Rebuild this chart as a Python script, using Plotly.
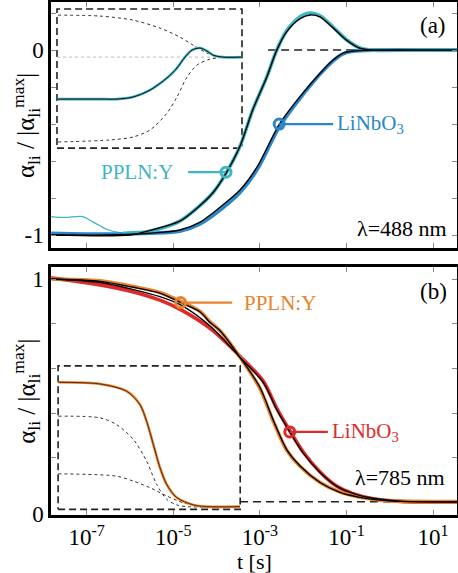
import plotly.graph_objects as go

# ---------------- data (x values are log10(t/s)) ----------------
# Panel (a), lambda = 488 nm
a_ppln_fit_logt = [-7.82, -6.0, -5.54, -4.85, -4.38, -4.08, -3.78, -3.46, -3.16, -2.84, -2.61,
                   -2.38, -2.07, -1.84, -1.61, -1.31, -1.0, -0.69, -0.38, 0.5, 1.55]
a_ppln_fit_y = [-1.0, -1.0, -0.975, -0.925, -0.84, -0.77, -0.665, -0.52, -0.32, -0.145, 0.0,
                0.10, 0.17, 0.19, 0.18, 0.12, 0.054, 0.01, 0.0, 0.0, 0.0]
# early drift of the PPLN:Y trace (thin, noisy part)
a_ppln_drift_logt = [-7.82, -7.5, -7.09, -6.85, -6.69, -6.53, -6.16, -5.54]
a_ppln_drift_y = [-0.90, -0.905, -0.90, -0.93, -0.95, -0.97, -0.99, -0.98]
a_ppln_data_logt = [-6.16, -5.54, -4.85, -4.38, -4.08, -3.78, -3.46, -3.16, -2.84, -2.61,
                    -2.38, -2.07, -1.84, -1.61, -1.31, -1.0, -0.69, -0.38, 0.5, 1.55]
a_ppln_data_y = [-0.99, -0.98, -0.925, -0.84, -0.77, -0.665, -0.52, -0.32, -0.145, 0.0,
                 0.105, 0.18, 0.20, 0.185, 0.125, 0.056, 0.012, 0.0, 0.0, 0.0]
a_lnb_fit_logt = [-7.82, -6.5, -5.54, -4.85, -4.38, -3.92, -3.46, -3.06, -2.55, -2.07, -1.61,
                  -1.31, -1.08, -0.85, -0.4, 1.55]
a_lnb_fit_y = [-1.0, -1.0, -0.99, -0.973, -0.93, -0.85, -0.757, -0.63, -0.40, -0.25, -0.125,
               -0.054, -0.016, -0.005, 0.0, 0.0]
a_lnb_data_logt = [-7.82, -6.5, -5.54, -4.85, -4.38, -3.92, -3.46, -3.06, -2.55, -2.07, -1.61,
                   -1.31, -1.08, -0.85, -0.4, 1.55]
a_lnb_data_y = [-0.99, -0.995, -0.99, -0.98, -0.94, -0.865, -0.77, -0.645, -0.415, -0.26, -0.13,
                -0.058, -0.02, -0.006, 0.0, 0.0]
a_zero_logt = [-2.81, 1.55]
a_zero_y = [0.0, 0.0]

# Inset of panel (a) (drawn in the main axes' coordinates)
a_ins_box_logt = [-7.686, -3.413]
a_ins_box_y = [-0.530, 0.222]
a_ins_total_logt = [-7.686, -6.693, -6.30, -5.931, -5.538, -5.146, -4.915, -4.730, -4.568,
                    -4.383, -4.222, -4.083, -3.852, -3.413]
a_ins_total_y = [-0.265, -0.265, -0.265, -0.254, -0.216, -0.151, -0.097, -0.038, 0.0,
                 0.011, -0.005, -0.027, -0.038, -0.038]
a_ins_up_logt = [-7.663, -6.693, -5.931, -5.307, -4.845, -4.545, -4.222, -3.921, -3.413]
a_ins_up_y = [0.189, 0.184, 0.162, 0.119, 0.070, 0.027, -0.016, -0.038, -0.038]
a_ins_low_logt = [-7.663, -6.462, -5.931, -5.538, -5.146, -4.915, -4.684, -4.453, -4.152,
                  -3.760, -3.413]
a_ins_low_y = [-0.497, -0.486, -0.470, -0.432, -0.341, -0.254, -0.146, -0.081, -0.049,
               -0.038, -0.038]
a_ins_zero_y = -0.038

# Panel (b), lambda = 785 nm
b_ppln_fit_logt = [-7.82, -6.69, -5.92, -5.31, -4.83, -4.38, -4.15, -3.92, -3.45, -3.0, -2.69,
                   -2.38, -2.07, -1.61, -1.15, -0.69, -0.23, 0.23, 1.55]
b_ppln_fit_y = [1.0, 0.99, 0.965, 0.94, 0.90, 0.86, 0.815, 0.78, 0.665, 0.54, 0.40,
                0.275, 0.205, 0.135, 0.093, 0.072, 0.06, 0.055, 0.053]
b_ppln_data_logt = b_ppln_fit_logt
b_ppln_data_y = [1.0, 0.992, 0.968, 0.943, 0.905, 0.862, 0.818, 0.78, 0.665, 0.535, 0.395,
                 0.272, 0.203, 0.135, 0.094, 0.073, 0.061, 0.056, 0.054]
b_lnb_fit_logt = [-7.82, -6.69, -5.92, -5.31, -4.83, -4.15, -3.45, -2.92, -2.61, -2.31, -2.0,
                  -1.61, -1.23, -0.85, -0.38, 0.23, 1.55]
b_lnb_fit_y = [1.0, 0.985, 0.955, 0.925, 0.89, 0.80, 0.665, 0.56, 0.445, 0.35, 0.26,
               0.178, 0.12, 0.089, 0.068, 0.056, 0.052]
b_lnb_data_logt = b_lnb_fit_logt
b_lnb_data_y = [1.005, 0.975, 0.945, 0.91, 0.87, 0.79, 0.67, 0.565, 0.45, 0.355, 0.265,
                0.18, 0.12, 0.088, 0.066, 0.055, 0.052]
b_asym_logt = [-3.46, 1.55]
b_asym_y = [0.053, 0.053]

# Inset of panel (b)
b_ins_box_logt = [-7.66, -3.455]
b_ins_box_y = [0.021, 0.631]
b_ins_total_logt = [-7.655, -6.693, -6.077, -5.769, -5.615, -5.461, -5.307, -5.153, -4.922,
                    -4.537, -4.229, -3.460]
b_ins_total_y = [0.561, 0.554, 0.523, 0.466, 0.395, 0.297, 0.198, 0.127, 0.071,
                 0.040, 0.0325, 0.0325]
b_ins_up_logt = [-7.655, -6.693, -6.308, -5.923, -5.615, -5.384, -5.153, -4.922, -4.691, -3.460]
b_ins_up_y = [0.417, 0.410, 0.381, 0.318, 0.226, 0.127, 0.064, 0.040, 0.0325, 0.0325]
b_ins_low_logt = [-7.655, -6.308, -5.923, -5.538, -5.153, -4.768, -4.383, -3.460]
b_ins_low_y = [0.172, 0.162, 0.141, 0.113, 0.078, 0.049, 0.035, 0.0325]

# Label markers (log10 t, y)
a_ppln_mark = (-3.783, -0.66)
a_lnb_mark = (-2.555, -0.40)
b_ppln_mark = (-4.83, 0.90)
b_lnb_mark = (-2.31, 0.35)

x_tick_exp = [-7, -5, -3, -1, 1]

# ---------------- styling ----------------
CYAN = "#3fb5c4"
BLUE = "#2a86c8"
ORANGE = "#e8822c"
RED = "#e02a2a"
FONT = "Liberation Serif, Times New Roman, serif"


def T(logt):
    return [10.0 ** v for v in logt]


fig = go.Figure()


def line(logt, y, color, width, xa, ya, dash=None, shape="spline"):
    fig.add_trace(go.Scatter(x=T(logt), y=y, mode="lines", xaxis=xa, yaxis=ya,
                             line=dict(color=color, width=width, dash=dash, shape=shape,
                                       smoothing=0.8 if shape == "spline" else None),
                             hoverinfo="skip", showlegend=False))


def box(lx, ly, xa, ya):
    bx = [lx[0], lx[1], lx[1], lx[0], lx[0]]
    by = [ly[0], ly[0], ly[1], ly[1], ly[0]]
    line(bx, by, "#222222", 1.6, xa, ya, dash="7px,4px", shape="linear")


# ----- panel (a) -----
box(a_ins_box_logt, a_ins_box_y, "x", "y")
line(a_ins_box_logt, [a_ins_zero_y, a_ins_zero_y], "#bbbbbb", 1.0, "x", "y", dash="dot", shape="linear")
line(a_ins_up_logt, a_ins_up_y, "#333333", 1.0, "x", "y", dash="dot")
line(a_ins_low_logt, a_ins_low_y, "#333333", 1.0, "x", "y", dash="dot")
line(a_ins_total_logt, a_ins_total_y, CYAN, 2.6, "x", "y")
line(a_ins_total_logt, a_ins_total_y, "#111111", 1.0, "x", "y")

line(a_zero_logt, a_zero_y, "#222222", 1.5, "x", "y", dash="8px,5px", shape="linear")
line(a_ppln_drift_logt, a_ppln_drift_y, CYAN, 1.3, "x", "y")
line(a_lnb_data_logt, a_lnb_data_y, BLUE, 3.6, "x", "y")
line(a_ppln_data_logt, a_ppln_data_y, CYAN, 3.6, "x", "y")
line(a_lnb_fit_logt, a_lnb_fit_y, "#000000", 1.4, "x", "y")
line(a_ppln_fit_logt, a_ppln_fit_y, "#000000", 1.4, "x", "y")

# ----- panel (b) -----
box(b_ins_box_logt, b_ins_box_y, "x2", "y2")
line(b_ins_up_logt, b_ins_up_y, "#333333", 1.0, "x2", "y2", dash="dot")
line(b_ins_low_logt, b_ins_low_y, "#333333", 1.0, "x2", "y2", dash="dot")
line(b_ins_total_logt, b_ins_total_y, ORANGE, 2.6, "x2", "y2")
line(b_ins_total_logt, b_ins_total_y, "#5a2a10", 1.0, "x2", "y2")

line(b_asym_logt, b_asym_y, "#222222", 1.5, "x2", "y2", dash="8px,5px", shape="linear")
line(b_lnb_data_logt, b_lnb_data_y, RED, 3.6, "x2", "y2")
line(b_ppln_data_logt, b_ppln_data_y, ORANGE, 3.6, "x2", "y2")
line(b_lnb_fit_logt, b_lnb_fit_y, "#000000", 1.4, "x2", "y2")
line(b_ppln_fit_logt, b_ppln_fit_y, "#000000", 1.4, "x2", "y2")

# ----- label connectors, markers, texts -----
labels = [
    (a_ppln_mark, -4.656, CYAN, "x", "y", "PPLN:Y", -4.956, "right"),
    (a_lnb_mark, -1.31, BLUE, "x", "y", "LiNbO<sub>3</sub>", -1.265, "left"),
    (b_ppln_mark, -3.64, ORANGE, "x2", "y2", "PPLN:Y", -3.41, "left"),
    (b_lnb_mark, -1.43, RED, "x2", "y2", "LiNbO<sub>3</sub>", -1.38, "left"),
]
annotations = []
for (mx, my), ex, col, xa, ya, txt, tx, anc in labels:
    line([mx, ex], [my, my], col, 2.2, xa, ya, shape="linear")
    fig.add_trace(go.Scatter(x=T([mx]), y=[my], mode="markers", xaxis=xa, yaxis=ya,
                             marker=dict(symbol="circle-open", size=10, color=col,
                                         line=dict(width=3, color=col)),
                             hoverinfo="skip", showlegend=False))
    annotations.append(dict(x=tx, y=my, xref=xa, yref=ya, text=txt, showarrow=False,
                            xanchor=anc, yanchor="middle",
                            font=dict(family=FONT, size=21, color=col)))

annotations += [
    dict(x=1.0, y=0.135, xref="x", yref="y", text="(a)", showarrow=False,
         xanchor="center", yanchor="middle",
         font=dict(family=FONT, size=23, color="black")),
    dict(x=1.37, y=-0.962, xref="x", yref="y", text="λ=488 nm", showarrow=False,
         xanchor="right", yanchor="middle", font=dict(family=FONT, size=22, color="black")),
    dict(x=1.0, y=0.945, xref="x2", yref="y2", text="(b)", showarrow=False,
         xanchor="center", yanchor="middle",
         font=dict(family=FONT, size=23, color="black")),
    dict(x=1.32, y=0.157, xref="x2", yref="y2", text="λ=785 nm", showarrow=False,
         xanchor="right", yanchor="middle", font=dict(family=FONT, size=22, color="black")),
    dict(x=-0.0616, y=0.760, xref="paper", yref="paper", textangle=-90, showarrow=False,
         xanchor="center", yanchor="middle",
         text="α<sub>li</sub> / |α<sub>li</sub><sup>max</sup>|",
         font=dict(family=FONT, size=25, color="black")),
    dict(x=-0.0616, y=0.242, xref="paper", yref="paper", textangle=-90, showarrow=False,
         xanchor="center", yanchor="middle",
         text="α<sub>li</sub> / |α<sub>li</sub><sup>max</sup>|",
         font=dict(family=FONT, size=25, color="black")),
    dict(x=0.5, y=-0.0897, xref="paper", yref="paper", text="t [s]", showarrow=False,
         xanchor="center", yanchor="middle",
         font=dict(family=FONT, size=22, color="black")),
]

tickvals_x = [10.0 ** e for e in x_tick_exp]
ticktext_x = ["10<sup>%d</sup>" % e for e in x_tick_exp]

axis_common = dict(showline=True, linewidth=2.5, linecolor="black", mirror="ticks",
                   ticks="inside", ticklen=5, tickwidth=1, tickcolor="#888888",
                   showgrid=False, zeroline=False, automargin=False,
                   tickfont=dict(family=FONT, size=23, color="black"))

fig.update_layout(
    template="none",
    width=458, height=573,
    margin=dict(l=51, r=1, t=2, b=58, pad=0),
    paper_bgcolor="white", plot_bgcolor="white",
    showlegend=False,
    annotations=annotations,
    xaxis=dict(axis_common, type="log", range=[-7.824, 1.552], domain=[0, 1], anchor="y",
               tickvals=tickvals_x, showticklabels=False),
    yaxis=dict(axis_common, range=[-1.07, 0.26], domain=[0.5205, 1.0], anchor="x",
               tickvals=[-1, -0.8, -0.6, -0.4, -0.2, 0, 0.2],
               ticktext=["-1", "", "", "", "", "0", ""]),
    xaxis2=dict(axis_common, type="log", range=[-7.824, 1.552], domain=[0, 1], anchor="y2",
                tickvals=tickvals_x, ticktext=ticktext_x),
    yaxis2=dict(axis_common, range=[-0.003, 1.051], domain=[0, 0.4834], anchor="x2",
                tickvals=[0, 0.24, 0.43, 0.62, 0.81, 1.0],
                ticktext=["0", "", "", "", "", "1"]),
)

fig.write_html("out.html", config={"displayModeBar": False},
               post_script="document.body.style.margin='0';document.body.style.padding='0';")
